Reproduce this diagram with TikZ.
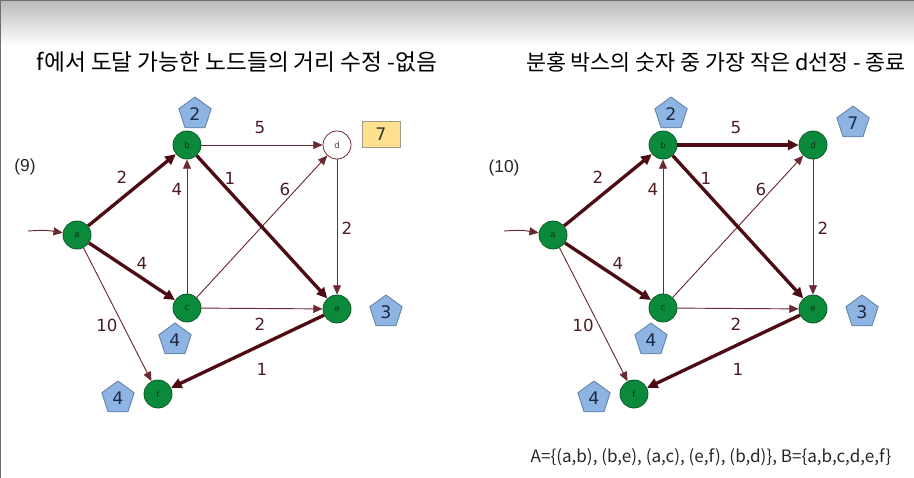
\documentclass[tikz,border=0pt]{standalone}
\usepackage{fontspec}
\setmainfont{DejaVu Sans}
\newfontfamily\krfont{Noto Sans CJK KR}
\newfontfamily\parfont{Liberation Sans}
\usetikzlibrary{arrows.meta,positioning,shapes.geometric}
\definecolor{topgray}{HTML}{B9B9B9}
\definecolor{framegray}{HTML}{6E6E6E}
\definecolor{vgreen}{HTML}{0B8A3B}
\definecolor{vgreenline}{HTML}{0A5A28}
\definecolor{vink}{HTML}{10301A}
\definecolor{edgedark}{HTML}{4D0C14}
\definecolor{edgethin}{HTML}{6A2A32}
\definecolor{labelink}{HTML}{4B1C22}
\definecolor{pentfill}{HTML}{8DB4E2}
\definecolor{pentline}{HTML}{5E7FA3}
\definecolor{pentink}{HTML}{1C2A44}
\definecolor{boxfill}{HTML}{FFE08E}
\definecolor{boxline}{HTML}{A09A8A}
\tikzset{
  vtx/.style={circle,draw=vgreenline,fill=vgreen,line width=0.6pt,
              minimum size=21pt,inner sep=0pt,text=vink,
              font=\fontsize{6.5}{7}\selectfont},
  vopen/.style={vtx,fill=white,draw=edgethin,text=black!75},
  pent/.style={regular polygon,regular polygon sides=5,draw=pentline,
               fill=pentfill,line width=0.6pt,minimum size=25.5pt,
               inner sep=0pt,text=pentink,font=\fontsize{13}{13}\selectfont},
  costbox/.style={draw=boxline,fill=boxfill,line width=0.6pt,
                  minimum width=28.5pt,minimum height=19.5pt,inner sep=0pt,
                  text=black!80,font=\fontsize{13}{13}\selectfont},
  elabel/.style={text=labelink,inner sep=0pt,
                 font=\fontsize{12.5}{13}\selectfont},
  runno/.style={text=black!85,inner sep=0pt,
                font=\parfont\fontsize{13}{14}\selectfont},
  headline/.style={inner sep=0pt,text=black,
                   font=\krfont\fontsize{17}{18}\selectfont},
  setline/.style={inner sep=0pt,text=black!85,
                  font=\krfont\fontsize{12.8}{14}\selectfont},
  thickarr/.style={-{Triangle[length=8pt,width=7.5pt]},line width=2.5pt,
                   draw=edgedark},
  thinarr/.style={-{Triangle[length=7pt,width=6pt]},line width=0.7pt,
                  draw=edgethin}
}

\begin{document}
\begin{tikzpicture}[x=0.75pt,y=-0.75pt]
  \path[use as bounding box] (0,0) rectangle (914,478);
  \shade[top color=topgray,bottom color=white] (0,0) rectangle (914,46);
  \draw[framegray,line width=1pt] (0.5,478) -- (0.5,0.5) -- (914,0.5);

  \node[headline] (ltitle) at (237,62)
    {f에서 도달 가능한 노드들의 거리 수정 -없음};
  \node[headline,font=\krfont\fontsize{16.3}{18}\selectfont] (rtitle)
    at (716,62) {분홍 박스의 숫자 중 가장 작은 d선정 - 종료};

  % step (9)
  \begin{scope}[name prefix=L-]
    \node[runno] (run) at (25,167) {(9)};
    \node[vtx] (a) at (77,235) {a};
    \node[vtx] (b) at (187,145) {b};
    \node[vopen] (d) at (337,145) {d};
    \node[vtx] (c) at (187,308) {c};
    \node[vtx] (e) at (337,309) {e};
    \node[vtx] (f) at (158,394) {f};
    \coordinate (in) at (28,231);
    \draw[thinarr] (in) .. controls (45,230) .. (a);

    \draw[thinarr] (b) -- (d);
    \draw[thinarr] (c) -- (b);
    \draw[thinarr] (c) -- (d);
    \draw[thinarr] (c) -- (e);
    \draw[thinarr] (d) -- (e);
    \draw[thinarr] (a) -- (f);
    \draw[thickarr] (a) -- (b);
    \draw[thickarr] (a) -- (c);
    \draw[thickarr] (b) -- (e);
    \draw[thickarr] (e) -- (f);

    \foreach \n/\w/\x/\y in {1/5/260/128,2/2/122/177,3/4/177/189,
        4/1/230/178,5/6/285/189,6/2/347/228,7/4/142/263,8/10/107/325,
        9/2/260/324,10/1/262/369}
      \node[elabel] (w\n) at (\x,\y) {\w};

    \node[pent] (pb) at (195,114) {2};
    \node[pent] (pc) at (175,340) {4};
    \node[pent] (pe) at (386,312) {3};
    \node[pent] (pf) at (118,398) {4};
    \node[costbox] (dbox) at (381,134) {7};
  \end{scope}

  % step (10)
  \begin{scope}[shift={(476,0)},name prefix=R-]
    \node[runno] (run) at (28,168) {(10)};
    \node[vtx] (a) at (77,235) {a};
    \node[vtx] (b) at (187,145) {b};
    \node[vtx] (d) at (337,145) {d};
    \node[vtx] (c) at (187,308) {c};
    \node[vtx] (e) at (337,309) {e};
    \node[vtx] (f) at (158,394) {f};
    \coordinate (in) at (28,231);
    \draw[thinarr] (in) .. controls (45,230) .. (a);

    \draw[thinarr] (c) -- (b);
    \draw[thinarr] (c) -- (d);
    \draw[thinarr] (c) -- (e);
    \draw[thinarr] (d) -- (e);
    \draw[thinarr] (a) -- (f);
    \draw[thickarr] (a) -- (b);
    \draw[thickarr] (a) -- (c);
    \draw[thickarr] (b) -- (e);
    \draw[thickarr] (e) -- (f);
    \draw[thickarr] (b) -- (d);

    \foreach \n/\w/\x/\y in {1/5/260/128,2/2/122/177,3/4/177/189,
        4/1/230/178,5/6/285/189,6/2/347/228,7/4/142/263,8/10/107/325,
        9/2/260/324,10/1/262/369}
      \node[elabel] (w\n) at (\x,\y) {\w};

    \node[pent] (pb) at (195,114) {2};
    \node[pent] (pd) at (377,123) {7};
    \node[pent] (pc) at (175,340) {4};
    \node[pent] (pe) at (386,312) {3};
    \node[pent] (pf) at (118,398) {4};
  \end{scope}

  \node[setline] (sets) at (711,457)
    {A=\{(a,b), (b,e), (a,c), (e,f), (b,d)\}, B=\{a,b,c,d,e,f\}};
\end{tikzpicture}
\end{document}
